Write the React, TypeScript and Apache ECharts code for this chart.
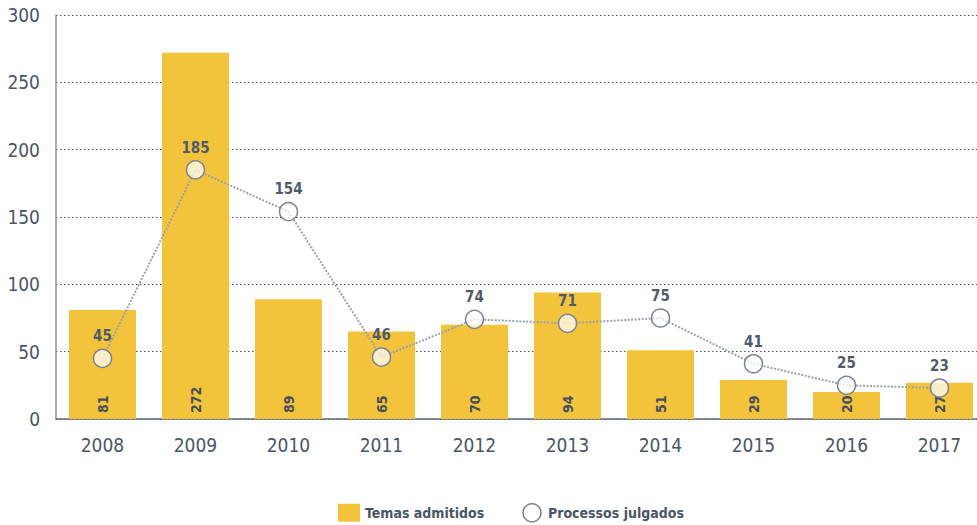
import React, { useEffect, useRef } from "react";
import * as echarts from "echarts";

const years = ["2008", "2009", "2010", "2011", "2012", "2013", "2014", "2015", "2016", "2017"];
const temasAdmitidos = [81, 272, 89, 65, 70, 94, 51, 29, 20, 27];
const processosJulgados = [45, 185, 154, 46, 74, 71, 75, 41, 25, 23];
const yTicks = [0, 50, 100, 150, 200, 250, 300];

const FONT = "'DejaVu Sans Condensed', 'Liberation Sans Narrow', 'Roboto', sans-serif";
const TEXT = "#4a5566";

export default function App() {
  const ref = useRef<HTMLDivElement>(null);
  useEffect(() => {
    if (!ref.current) return;
    const chart = echarts.init(ref.current, undefined, { renderer: "svg" });
    chart.setOption({
      animation: false,
      textStyle: { fontFamily: FONT },
      grid: { left: 56, right: 0, top: 15, bottom: 106, containLabel: false },
      legend: {
        top: 498,
        left: 333,
        itemGap: 38,
        itemWidth: 22,
        itemHeight: 18,
        textStyle: { fontFamily: FONT, fontSize: 14, fontWeight: "bold", color: TEXT },
        data: [
          { name: "Temas admitidos", icon: "rect" },
          {
            name: "Processos julgados",
            icon: "circle",
            itemStyle: { color: "#ffffff", borderColor: "#7a8494", borderWidth: 1.5 },
          },
        ],
      },
      xAxis: {
        type: "category",
        data: years,
        axisLine: { lineStyle: { color: "#5d6878", width: 1.5 } },
        axisTick: { inside: true, length: 7, lineStyle: { color: "#5d6878", width: 1.5 } },
        axisLabel: { fontFamily: FONT, fontSize: 19, color: TEXT, margin: 16 },
      },
      yAxis: {
        type: "value",
        min: yTicks[0],
        max: yTicks[yTicks.length - 1],
        interval: 50,
        axisLine: { show: true, lineStyle: { color: "#8a93a0", width: 1.5 } },
        axisTick: { show: false },
        axisLabel: { fontFamily: FONT, fontSize: 19, color: TEXT, margin: 16 },
        splitLine: { lineStyle: { color: "#4a5566", type: [1.5, 2.5], width: 1 } },
      },
      series: [
        {
          name: "Temas admitidos",
          type: "bar",
          data: temasAdmitidos,
          barCategoryGap: "28%",
          itemStyle: { color: "#f3c43b" },
          label: {
            show: true,
            position: "insideBottom",
            rotate: 90,
            align: "left",
            verticalAlign: "middle",
            distance: 6,
            fontFamily: FONT,
            fontSize: 14,
            fontWeight: "bold",
            color: "#454f5e",
          },
          z: 1,
        },
        {
          name: "Processos julgados",
          type: "line",
          data: processosJulgados,
          symbol: "circle",
          symbolSize: 18,
          lineStyle: { color: "#9aa2ae", width: 2, type: [2, 1.5] },
          itemStyle: { color: "rgba(255,255,255,0.72)", borderColor: "#7a8494", borderWidth: 1.5 },
          label: {
            show: true,
            position: "top",
            distance: 5,
            fontFamily: FONT,
            fontSize: 15,
            fontWeight: "bold",
            color: "#4f5b6b",
          },
          z: 3,
        },
      ],
    });
    return () => chart.dispose();
  }, []);
  return (
    <div style={{ position: "absolute", left: 0, top: 0, width: 977, height: 525, overflow: "hidden" }}>
      <div ref={ref} style={{ width: 986, height: 525 }} />
    </div>
  );
}
